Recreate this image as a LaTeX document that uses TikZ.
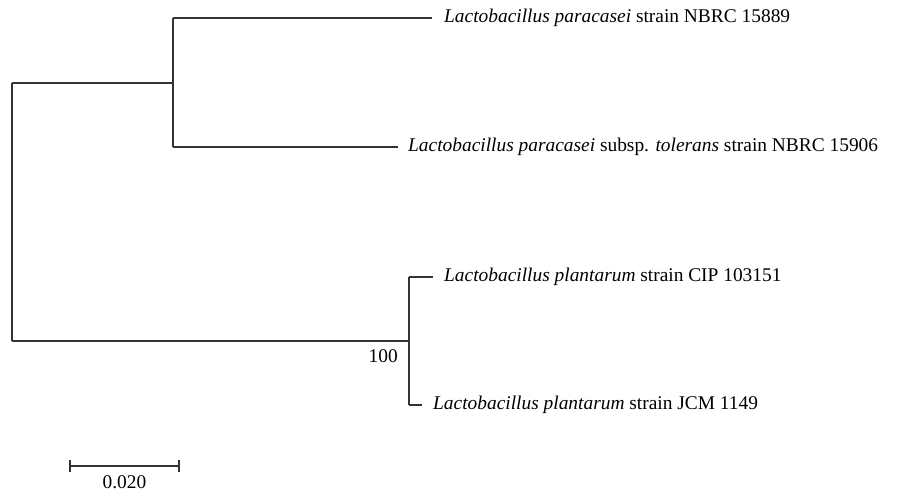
\documentclass[tikz,border=0pt]{standalone}
\usepackage{fontspec}
\setmainfont{Liberation Serif}
\begin{document}
\begin{tikzpicture}[x=1pt,y=-1pt,
  branch/.style={line width=1.1pt, draw=black!80},
  leaf/.style={anchor=west, inner sep=0pt, font=\fontsize{19.4}{22}\selectfont},
  lbl/.style={inner sep=0pt, font=\fontsize{19.4}{22}\selectfont}]
\useasboundingbox (0,0) rectangle (902,494);
% internal nodes
\coordinate (r) at (12,83);
\coordinate (rb) at (12,341);
\coordinate (a) at (173,83);
\coordinate (a1) at (173,18);
\coordinate (a2) at (173,147);
\coordinate (b) at (409,341);
\coordinate (b1) at (409,277);
\coordinate (b2) at (409,405);
% leaves
\node[leaf] (l1) at (444,18) {\textit{Lactobacillus paracasei} strain NBRC 15889};
\node[leaf] (l2) at (408,147) {\textit{Lactobacillus paracasei} subsp. \textit{tolerans} strain NBRC 15906};
\node[leaf] (l3) at (444,277) {\textit{Lactobacillus plantarum} strain CIP 103151};
\node[leaf] (l4) at (433,405) {\textit{Lactobacillus plantarum} strain JCM 1149};
\coordinate (e1) at (432,18);
\coordinate (e2) at (398,147);
\coordinate (e3) at (433,277);
\coordinate (e4) at (422,405);
% branches
\draw[branch] (r) -- (rb);
\draw[branch] (r) -- (a);
\draw[branch] (a1) -- (a2);
\draw[branch] (a1) -- (e1);
\draw[branch] (a2) -- (e2);
\draw[branch] (rb) -- (b);
\draw[branch] (b1) -- (b2);
\draw[branch] (b1) -- (e3);
\draw[branch] (b2) -- (e4);
\node[lbl, anchor=north east] (bs) at (398,349) {100};
% scale bar
\coordinate (s1) at (70,466);
\coordinate (s2) at (179,466);
\draw[branch] (s1) -- (s2);
\draw[branch] (70,460) -- (70,472);
\draw[branch] (179,460) -- (179,472);
\node[lbl, anchor=north] (sl) at (124.5,475) {0.020};
\end{tikzpicture}
\end{document}
